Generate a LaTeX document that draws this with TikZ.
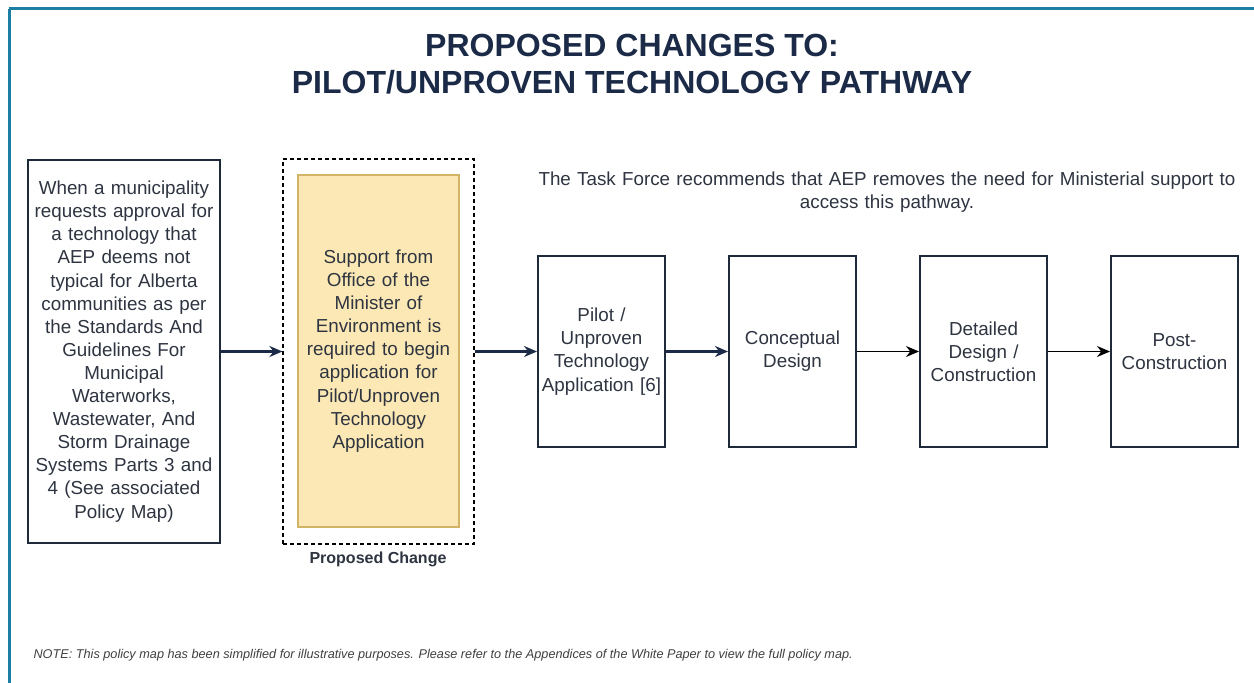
\documentclass[tikz,border=0pt]{standalone}
\usepackage{fontspec}
\setmainfont{Liberation Sans}
\usetikzlibrary{arrows.meta}
\definecolor{frameteal}{HTML}{1A7FA3}
\definecolor{navy}{HTML}{1B2A47}
\definecolor{bodytext}{HTML}{2E3440}
\definecolor{boxline}{HTML}{1E2A3A}
\definecolor{paleyellow}{HTML}{FBE8B4}
\definecolor{goldline}{HTML}{D2B466}
\definecolor{notegray}{HTML}{404040}
\begin{document}
\begin{tikzpicture}[x=1pt,y=-1pt,
  body/.style={font=\fontsize{18.8}{23.1}\selectfont, text=bodytext, align=center},
  stepbox/.style={body, draw=boxline, line width=2pt, fill=white,
    minimum width=127pt, minimum height=191pt, text width=124pt, inner sep=0pt},
  navyarrow/.style={draw=navy, line width=2.6pt, -{Stealth[length=13pt,width=11pt]}},
  thinarrow/.style={draw=black, line width=1.3pt, -{Stealth[length=13pt,width=11pt]}}
]
% canvas
\useasboundingbox (0,0) rectangle (1254,683);
\fill[white] (0,0) rectangle (1254,683);
% frame edges
\draw[frameteal, line width=3pt] (8.5,8.5) -- (1254,8.5);
\draw[frameteal, line width=3pt] (9.5,8.5) -- (9.5,683);

% heading
\node[font=\fontsize{32}{37}\selectfont\bfseries, text=navy, align=center] (title) at (632,64)
  {PROPOSED CHANGES TO:\\PILOT/UNPROVEN TECHNOLOGY PATHWAY};

% starting condition
\node[body, draw=boxline, line width=2pt, minimum width=192pt, minimum height=383pt,
  text width=188pt, inner sep=0pt] (start) at (124,351.5)
  {When a municipality\\requests approval for\\a technology that\\AEP deems not\\typical for Alberta\\communities as per\\the Standards And\\Guidelines For\\Municipal\\Waterworks,\\Wastewater, And\\Storm Drainage\\Systems Parts 3 and\\4 (See associated\\Policy Map)};

% proposed change group
\node[draw=black, dashed, line width=1.2pt, dash pattern=on 4pt off 3pt,
  minimum width=191pt, minimum height=385pt, inner sep=0pt] (group) at (378.5,351.5) {};
\node[body, fill=paleyellow, draw=goldline, line width=2pt, minimum width=161pt,
  minimum height=352pt, text width=158pt, inner sep=0pt] (support) at (378.5,351)
  {Support from\\Office of the\\Minister of\\Environment is\\required to begin\\application for\\Pilot/Unproven\\Technology\\Application};
\node[font=\fontsize{16}{18}\selectfont\bfseries, text=bodytext] (grouplabel) at (378,559)
  {Proposed Change};

% recommendation
\node[body, font=\fontsize{18.8}{22.5}\selectfont, text width=740pt] (note) at (887,192)
  {The Task Force recommends that AEP removes the need for Ministerial support to\\access this pathway.};

% pathway steps
\node[stepbox] (pilot) at (601.5,351.5) {Pilot /\\Unproven\\Technology\\Application [6]};
\node[stepbox] (concept) at (792.5,351.5) {Conceptual\\Design};
\node[stepbox] (detail) at (983.5,351.5) {Detailed\\Design /\\Construction};
\node[stepbox] (post) at (1174.5,351.5) {Post-\\Construction};

% connectors
\draw[navyarrow] (start.east) -- (group.west);
\draw[navyarrow] (group.east) -- (pilot.west);
\draw[navyarrow] (pilot.east) -- (concept.west);
\draw[thinarrow] (concept.east) -- (detail.west);
\draw[thinarrow] (detail.east) -- (post.west);

% footnote
\node[anchor=west, font=\fontsize{12.7}{14}\selectfont\itshape, text=notegray] (foot) at (30,655)
  {NOTE: This policy map has been simplified for illustrative purposes. Please refer to the Appendices of the White Paper to view the full policy map.};
\end{tikzpicture}
\end{document}
